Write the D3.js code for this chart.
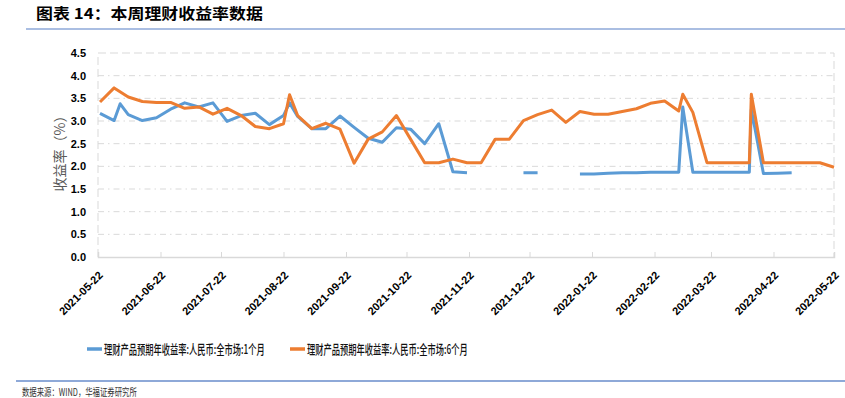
<!DOCTYPE html>
<html lang="zh">
<head>
<meta charset="utf-8">
<title>本周理财收益率数据</title>
<style>
  body { margin: 0; background: #fff; }
  svg text { font-family: "Liberation Sans", Arial, "Noto Sans CJK SC", sans-serif; }
  .cjk { font-family: "Noto Sans CJK SC", "Noto Sans", sans-serif; }
</style>
</head>
<body>
<script src="https://d3js.org/d3.v7.min.js"></script>
<script>
// 日期（周度，含月末/季末的插入观测）
const dates = [
  "2021-05-23","2021-05-30","2021-06-02","2021-06-06","2021-06-13","2021-06-20","2021-06-27",
  "2021-07-04","2021-07-11","2021-07-18","2021-07-25","2021-08-01","2021-08-08","2021-08-15",
  "2021-08-22","2021-08-25","2021-08-29","2021-09-05","2021-09-12","2021-09-19","2021-09-26",
  "2021-10-03","2021-10-10","2021-10-17","2021-10-24","2021-10-31","2021-11-07","2021-11-14",
  "2021-11-21","2021-11-28","2021-12-05","2021-12-12","2021-12-19","2021-12-26","2022-01-02",
  "2022-01-09","2022-01-16","2022-01-23","2022-01-30","2022-02-06","2022-02-13","2022-02-20",
  "2022-02-27","2022-03-06","2022-03-08","2022-03-13","2022-03-20","2022-03-27","2022-04-03",
  "2022-04-10","2022-04-11","2022-04-17","2022-04-24","2022-05-01","2022-05-08","2022-05-15",
  "2022-05-22"
];
// 1个月
const oneMonth = [
  3.17, 3.01, 3.38, 3.14, 3.01, 3.07, 3.26,
  3.40, 3.31, 3.40, 2.99, 3.12, 3.17, 2.92,
  3.12, 3.40, 3.10, 2.83, 2.83, 3.11, 2.86,
  2.62, 2.53, 2.85, 2.82, 2.50, 2.94, 1.88,
  1.86, null, null, null, 1.86, 1.86, null,
  null, 1.83, 1.83, 1.85, 1.86, 1.86, 1.87,
  1.87, 1.87, 3.31, 1.87, 1.87, 1.87, 1.87,
  1.87, 3.26, 1.84, 1.85, 1.86, null, null,
  null
];
// 6个月
const sixMonth = [
  3.42, 3.73, null, 3.53, 3.43, 3.41, 3.41,
  3.28, 3.31, 3.15, 3.28, 3.12, 2.88, 2.83,
  2.94, 3.58, 3.12, 2.83, 2.95, 2.82, 2.07,
  2.60, 2.76, 3.12, 2.60, 2.08, 2.08, 2.16,
  2.08, 2.08, 2.60, 2.60, 3.01, 3.14, 3.24,
  2.97, 3.21, 3.15, 3.15, 3.21, 3.27, 3.39,
  3.44, 3.22, 3.59, 3.19, 2.08, 2.08, 2.08,
  2.08, 3.59, 2.08, 2.08, 2.08, 2.08, 2.08,
  1.98
];
const tickLabels = [
  "2021-05-22","2021-06-22","2021-07-22","2021-08-22","2021-09-22","2021-10-22","2021-11-22",
  "2021-12-22","2022-01-22","2022-02-22","2022-03-22","2022-04-22","2022-05-22"
];
const yTicks = [0, 0.5, 1.0, 1.5, 2.0, 2.5, 3.0, 3.5, 4.0, 4.5];
const seriesNames = ["理财产品预期年收益率:人民币:全市场:1个月", "理财产品预期年收益率:人民币:全市场:6个月"];
const colors = ["#5B9BD5", "#ED7D31"];

const width = 845, height = 398;
const plot = { left: 98, right: 834, top: 53, bottom: 257 };

const parse = d3.utcParse("%Y-%m-%d");
const x = d3.scaleUtc()
  .domain([parse(tickLabels[0]), parse(tickLabels[tickLabels.length - 1])])
  .range([plot.left, plot.right]);
const y = d3.scaleLinear().domain([0, 4.5]).range([plot.bottom, plot.top]);

const svg = d3.select("body").append("svg")
  .attr("width", width)
  .attr("height", height);

// 把文字横向压缩到给定宽度（参考图用的是窄体字）
function squeeze(sel, x0, y0, w) {
  const natural = sel.node().getComputedTextLength();
  sel.attr("transform", `translate(${x0},${y0}) scale(${w / natural},1)`);
}

// 标题
const title = svg.append("text")
  .attr("class", "cjk")
  .attr("font-size", 15).attr("font-weight", "bold").attr("fill", "#000")
  .text("图表 14：本周理财收益率数据");
squeeze(title, 36, 19, 227);
svg.append("line")
  .attr("x1", 26).attr("x2", 845).attr("y1", 29).attr("y2", 29)
  .attr("stroke", "#8EA9D8").attr("stroke-width", 1.5);

// 网格线
svg.append("g")
  .selectAll("line")
  .data(yTicks.filter(v => v > 0 && v < 4.5))
  .join("line")
  .attr("x1", plot.left).attr("x2", plot.right)
  .attr("y1", d => y(d)).attr("y2", d => y(d))
  .attr("stroke", "#D9D9D9").attr("stroke-width", 1)
  .attr("stroke-dasharray", "6,4,1.5,4");

// 绘图区边框（虚线）
svg.append("path")
  .attr("d", `M${plot.left},${plot.bottom}V${plot.top}H${plot.right}V${plot.bottom}`)
  .attr("fill", "none")
  .attr("stroke", "#D9D9D9").attr("stroke-width", 1)
  .attr("stroke-dasharray", "8,4");

// x 轴
const xAxis = svg.append("g")
  .attr("transform", `translate(0,${plot.bottom})`)
  .call(d3.axisBottom(x)
    .tickValues(tickLabels.map(parse))
    .tickSize(-5)
    .tickFormat(d3.utcFormat("%Y-%m-%d")));
xAxis.select(".domain").attr("stroke", "#D9D9D9").attr("stroke-width", 1.5);
xAxis.selectAll(".tick line").attr("stroke", "#D9D9D9");
xAxis.selectAll(".tick text")
  .attr("font-size", 11).attr("font-weight", "bold").attr("fill", "#000")
  .attr("text-anchor", "end")
  .attr("transform", "translate(5,19) rotate(-45)")
  .attr("x", 0).attr("y", 0).attr("dy", 0);

// y 轴
const yAxis = svg.append("g")
  .attr("transform", `translate(${plot.left},0)`)
  .call(d3.axisLeft(y).tickValues(yTicks).tickSize(0).tickPadding(12).tickFormat(d3.format(".1f")));
yAxis.select(".domain").remove();
yAxis.selectAll(".tick text")
  .attr("font-size", 11).attr("font-weight", "bold").attr("fill", "#000");

svg.append("text")
  .attr("class", "cjk")
  .attr("transform", `translate(65,150) rotate(-90)`)
  .attr("text-anchor", "middle")
  .attr("font-size", 14).attr("fill", "#595959")
  .text("收益率（%）");

// 折线
const dts = dates.map(parse);
const line = d3.line()
  .defined(d => d[1] != null)
  .x(d => x(d[0]))
  .y(d => y(d[1]));

// 1个月：缺失处断开
svg.append("path")
  .datum(dts.map((d, i) => [d, oneMonth[i]]))
  .attr("d", line)
  .attr("fill", "none").attr("stroke", colors[0]).attr("stroke-width", 3)
  .attr("stroke-linejoin", "round");

// 6个月：只有观测点
svg.append("path")
  .datum(dts.map((d, i) => [d, sixMonth[i]]).filter(d => d[1] != null))
  .attr("d", line)
  .attr("fill", "none").attr("stroke", colors[1]).attr("stroke-width", 3)
  .attr("stroke-linejoin", "round");

// 图例
const legend = svg.append("g");
const legendX = [87, 290];
seriesNames.forEach((name, i) => {
  legend.append("line")
    .attr("x1", legendX[i]).attr("x2", legendX[i] + 15)
    .attr("y1", 349).attr("y2", 349)
    .attr("stroke", colors[i]).attr("stroke-width", 3.5);
  const t = legend.append("text")
    .attr("class", "cjk")
    .attr("font-size", 13).attr("font-weight", 500).attr("fill", "#111")
    .text(name);
  squeeze(t, legendX[i] + 17, 354, 161);
});

// 底线与来源
svg.append("line")
  .attr("x1", 16).attr("x2", 845).attr("y1", 381).attr("y2", 381)
  .attr("stroke", "#8EA9D8").attr("stroke-width", 2);
const src = svg.append("text")
  .attr("class", "cjk")
  .attr("font-size", 10.5).attr("fill", "#333")
  .text("数据来源：WIND，华福证券研究所");
squeeze(src, 22, 396, 115);
</script>
</body>
</html>
